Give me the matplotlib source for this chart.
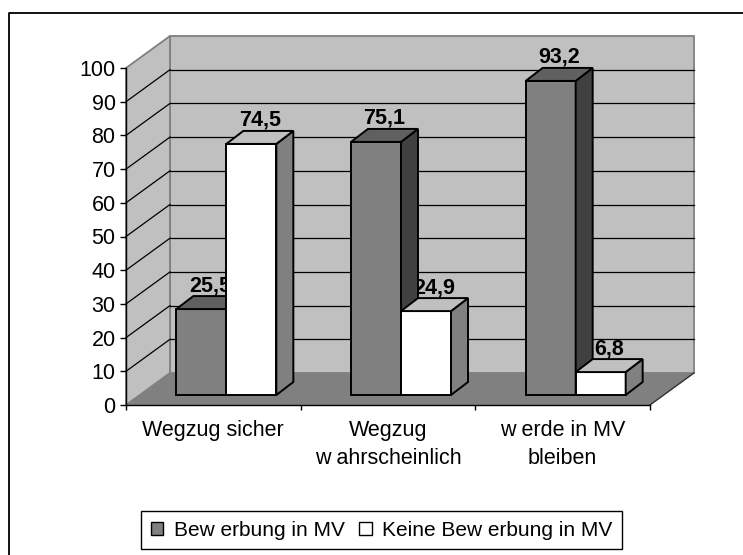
import matplotlib
matplotlib.use("Agg")
import matplotlib.pyplot as plt
from matplotlib.patches import Polygon, Patch
from matplotlib.lines import Line2D
from matplotlib.transforms import ScaledTranslation

plt.rcParams.update({
    "font.family": ["Liberation Sans", "DejaVu Sans"],
    "font.size": 15,
})

categories = ["Wegzug sicher", "Wegzug\nw ahrscheinlich", "w erde in MV\nbleiben"]
series_names = ["Bew erbung in MV", "Keine Bew erbung in MV"]
bewerbung = [25.5, 75.1, 93.2]
keine_bewerbung = [74.5, 24.9, 6.8]
yticks = [0, 10, 20, 30, 40, 50, 60, 70, 80, 90, 100]

# face colours per series: front, top, side
FACES = [("#808080", "#606060", "#404040"),
         ("#ffffff", "#c0c0c0", "#808080")]
WALL = "#c0c0c0"
FLOOR = "#808080"

W, H, DPI = 743, 555, 100
fig = plt.figure(figsize=(W / DPI, H / DPI), dpi=DPI)
# front plane of the fake 3D box, in pixels: x 126..650, y 405 (0) .. 68 (100)
ax = fig.add_axes([126 / W, 1 - 405 / H, 524 / W, 337 / H])
ax.set_xlim(0, 3)
ax.set_ylim(0, 100)
ax.patch.set_visible(False)

sx = 524 / 3.0     # px per category
sy = 337 / 100.0   # px per value unit


def px(dx, dy):
    """pixel offset -> data offset"""
    return dx / sx, dy / sy


def shifted(dx, dy):
    return ax.transData + ScaledTranslation(dx / DPI, dy / DPI, fig.dpi_scale_trans)


# walls and floor (back plane sits 44 px right, 32 px up)
bx, by = px(44, 32)
ax.add_patch(Polygon([(bx, by), (3 + bx, by), (3 + bx, 100 + by), (bx, 100 + by)],
                     fc=WALL, ec="#808080", lw=1.3, clip_on=False, zorder=0.1))
ax.add_patch(Polygon([(0, 0), (bx, by), (bx, 100 + by), (0, 100)],
                     fc=WALL, ec="#808080", lw=1.3, clip_on=False, zorder=0.1))
ax.add_patch(Polygon([(0, 0), (3, 0), (3 + bx, by), (bx, by)],
                     fc=FLOOR, ec="none", clip_on=False, zorder=0.2))
ax.plot([3, 3 + bx], [0, by], color="#303030", lw=1.0, clip_on=False, zorder=0.3)
for v in yticks[1:-1]:
    ax.plot([bx, 3 + bx], [v + by, v + by], color="black", lw=0.9, clip_on=False, zorder=0.3)
    ax.plot([0, bx], [v, v + by], color="black", lw=0.9, clip_on=False, zorder=0.3)

# bars: front faces sit 13 px right / 10 px up, depth 17 x 13 px
bar_tr = shifted(13, 10)
dx, dy = px(17, 13)
bw = 50 / sx
k = 0
for i in range(len(categories)):
    for j, vals in enumerate([bewerbung, keine_bewerbung]):
        front, top, side = FACES[j]
        x0 = i + 0.5 - bw + j * bw
        x1 = x0 + bw
        h = vals[i]
        z = 3 + k * 0.01
        k += 1
        bar = ax.bar(x0, h, width=bw, align="edge", color=front, edgecolor="black",
                     linewidth=1.4, transform=bar_tr, zorder=z, clip_on=False)
        bar[0].set_joinstyle("miter")
        ax.add_patch(Polygon([(x1, 0), (x1, h), (x1 + dx, h + dy), (x1 + dx, dy)],
                             fc=side, ec="black", lw=1.4, joinstyle="miter",
                             transform=bar_tr, clip_on=False, zorder=z))
        ax.add_patch(Polygon([(x0, h), (x1, h), (x1 + dx, h + dy), (x0 + dx, h + dy)],
                             fc=top, ec="black", lw=1.4, joinstyle="miter",
                             transform=bar_tr, clip_on=False, zorder=z))
        ax.text(x0 + bw / 2 + dx / 2, h + dy, f"{h:.1f}".replace(".", ","),
                transform=bar_tr + ScaledTranslation(0, 5 / DPI, fig.dpi_scale_trans),
                ha="center", va="baseline", fontsize=15.5, fontweight="bold", zorder=2.9)

# axes
for s in ["top", "right"]:
    ax.spines[s].set_visible(False)
ax.spines["left"].set_linewidth(1.0)
ax.spines["bottom"].set_linewidth(1.0)
ax.spines["left"].set_zorder(2)
ax.spines["bottom"].set_zorder(2)
ax.set_yticks(yticks)
ax.set_yticklabels([str(t) for t in yticks])
ax.tick_params(axis="y", direction="out", length=4.3, width=1.0, pad=3.2, labelsize=15.5)
ax.set_xticks([0, 1, 2, 3])
ax.set_xticklabels([])
ax.tick_params(axis="x", which="major", direction="out", length=3.6, width=1.0)
ax.set_xticks([0.5, 1.5, 2.5], minor=True)
ax.set_xticklabels(categories, minor=True)
ax.tick_params(axis="x", which="minor", length=0, pad=11, labelsize=15.5)
for lbl in ax.get_xticklabels(minor=True):
    lbl.set_linespacing(1.4)

# legend
handles = [Patch(fc=FACES[0][0], ec="black", lw=1.0), Patch(fc=FACES[1][0], ec="black", lw=1.0)]
leg = fig.legend(handles=handles, labels=series_names, ncol=2, loc="center",
                 bbox_to_anchor=(381.5 / W, 1 - 530 / H), frameon=True, fancybox=False,
                 edgecolor="black", framealpha=1, fontsize=15,
                 handlelength=0.6, handleheight=0.6, handletextpad=0.5,
                 columnspacing=0.7, borderpad=0.45, borderaxespad=0)
leg.get_frame().set_linewidth(1.0)

# outer chart frame (cut by the image on the right and bottom)
fig.add_artist(Line2D([9 / W, 9 / W, 1.01], [-0.01, 1 - 13 / H, 1 - 13 / H],
                      transform=fig.transFigure, color="black", lw=1.3))

fig.savefig("out.png", dpi=DPI)
